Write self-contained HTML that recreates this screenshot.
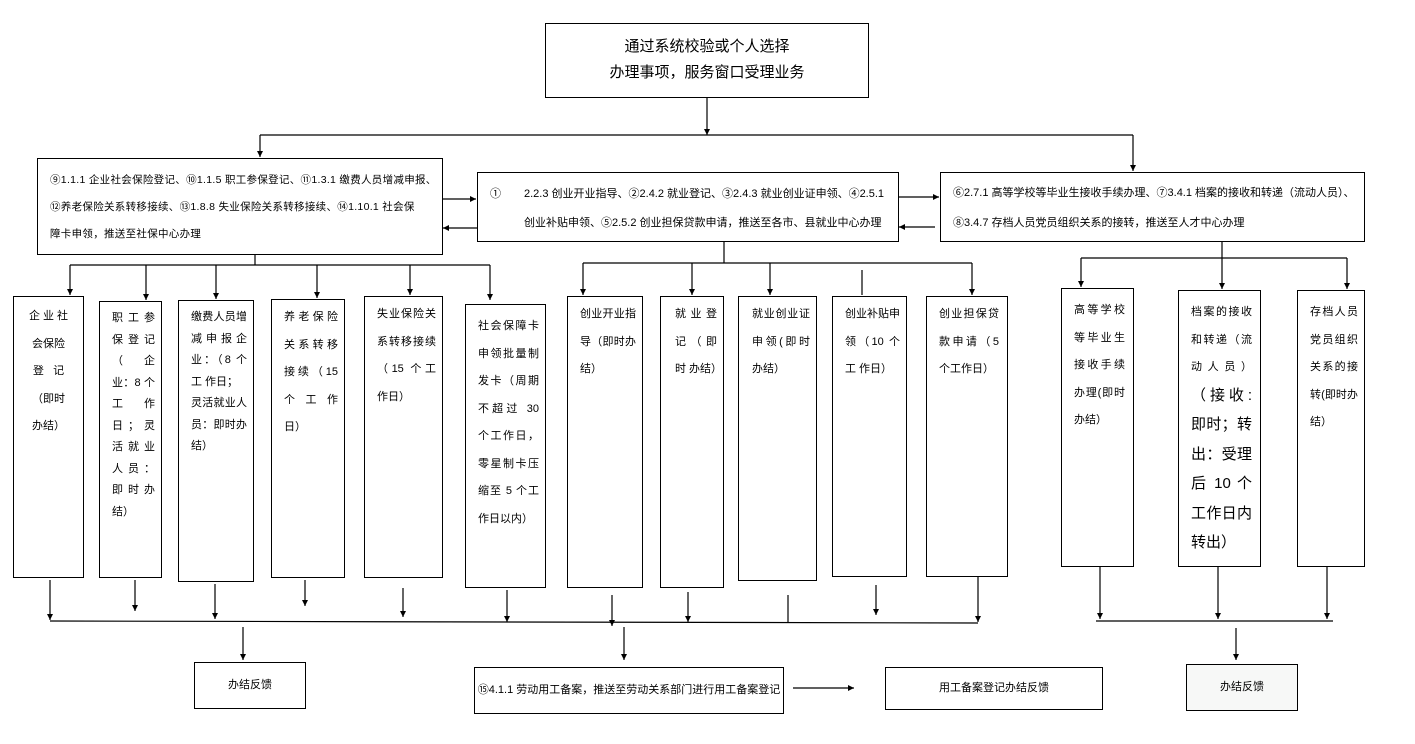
<!DOCTYPE html>
<html><head><meta charset="utf-8"><style>
body{margin:0;width:1415px;height:744px;background:#fff;position:relative;overflow:hidden;font-family:"Liberation Sans","Noto Sans CJK SC",sans-serif;color:#000}
.b{position:absolute;border:1.5px solid #000;box-sizing:border-box;background:#fff}
.t{font-size:10.5px;line-height:27px;white-space:nowrap}
.n{position:absolute;box-sizing:border-box;border:1.5px solid #000;background:#fff;font-size:11px;line-height:27.5px;padding:10px 8px 0 12px;text-align:justify;word-break:break-all}
svg{position:absolute;left:0;top:0}
</style></head><body>
<svg width="1415" height="744">
<defs><marker id="a" markerWidth="6" markerHeight="6" refX="5" refY="3" orient="auto"><path d="M0,0.5 L5,3 L0,5.5z" fill="#000"/></marker></defs>
<g stroke="#000" stroke-width="1.2" fill="none">
<line x1="707" y1="97" x2="707" y2="135" marker-end="url(#a)"/>
<line x1="260" y1="135" x2="1133" y2="135"/>
<line x1="260" y1="135" x2="260" y2="157" marker-end="url(#a)"/>
<line x1="1133" y1="135" x2="1133" y2="171" marker-end="url(#a)"/>
<line x1="442" y1="199" x2="476" y2="199" marker-end="url(#a)"/>
<line x1="477" y1="228" x2="443" y2="228" marker-end="url(#a)"/>
<line x1="898" y1="197" x2="939" y2="197" marker-end="url(#a)"/>
<line x1="935" y1="227" x2="899" y2="227" marker-end="url(#a)"/>
<line x1="255" y1="254" x2="255" y2="265"/>
<line x1="70" y1="265" x2="490" y2="265"/>
<line x1="70" y1="265" x2="70" y2="295" marker-end="url(#a)"/>
<line x1="146" y1="265" x2="146" y2="300" marker-end="url(#a)"/>
<line x1="216" y1="265" x2="216" y2="299" marker-end="url(#a)"/>
<line x1="317" y1="265" x2="317" y2="298" marker-end="url(#a)"/>
<line x1="410" y1="265" x2="410" y2="295" marker-end="url(#a)"/>
<line x1="490" y1="265" x2="490" y2="300" marker-end="url(#a)"/>
<line x1="724" y1="241" x2="724" y2="263"/>
<line x1="583" y1="263" x2="972" y2="263"/>
<line x1="583" y1="263" x2="583" y2="295" marker-end="url(#a)"/>
<line x1="692" y1="263" x2="692" y2="295" marker-end="url(#a)"/>
<line x1="770" y1="263" x2="770" y2="295" marker-end="url(#a)"/>
<line x1="862" y1="270" x2="862" y2="295"/>
<line x1="972" y1="263" x2="972" y2="295" marker-end="url(#a)"/>
<line x1="1222" y1="241" x2="1222" y2="289" marker-end="url(#a)"/>
<line x1="1081" y1="258" x2="1347" y2="258"/>
<line x1="1081" y1="258" x2="1081" y2="287" marker-end="url(#a)"/>
<line x1="1347" y1="258" x2="1347" y2="289" marker-end="url(#a)"/>
<line x1="50" y1="580" x2="50" y2="620" marker-end="url(#a)"/>
<line x1="135" y1="580" x2="135" y2="611" marker-end="url(#a)"/>
<line x1="215" y1="584" x2="215" y2="619" marker-end="url(#a)"/>
<line x1="305" y1="580" x2="305" y2="606" marker-end="url(#a)"/>
<line x1="403" y1="588" x2="403" y2="617" marker-end="url(#a)"/>
<line x1="507" y1="590" x2="507" y2="622" marker-end="url(#a)"/>
<line x1="612" y1="595" x2="612" y2="626" marker-end="url(#a)"/>
<line x1="688" y1="592" x2="688" y2="622" marker-end="url(#a)"/>
<line x1="788" y1="595" x2="788" y2="622"/>
<line x1="876" y1="585" x2="876" y2="615" marker-end="url(#a)"/>
<line x1="978" y1="568" x2="978" y2="622" marker-end="url(#a)"/>
<line x1="50" y1="621" x2="978" y2="623"/>
<line x1="243" y1="627" x2="243" y2="660" marker-end="url(#a)"/>
<line x1="624" y1="627" x2="624" y2="660" marker-end="url(#a)"/>
<line x1="1100" y1="566" x2="1100" y2="619" marker-end="url(#a)"/>
<line x1="1218" y1="566" x2="1218" y2="619" marker-end="url(#a)"/>
<line x1="1327" y1="566" x2="1327" y2="619" marker-end="url(#a)"/>
<line x1="1096" y1="621" x2="1333" y2="621"/>
<line x1="1236" y1="628" x2="1236" y2="660" marker-end="url(#a)"/>
<line x1="793" y1="688" x2="854" y2="688" marker-end="url(#a)"/>
</g></svg>

<div class="b" style="left:545px;top:23px;width:324px;height:75px;text-align:center;font-size:15px;line-height:26px;padding-top:10px">通过系统校验或个人选择<br>办理事项，服务窗口受理业务</div>

<div class="b t" style="left:37px;top:158px;width:406px;height:97px;padding:8px 0 0 12px;letter-spacing:0.3px">⑨1.1.1 企业社会保险登记、⑩1.1.5 职工参保登记、⑪1.3.1 缴费人员增减申报、<br>⑫养老保险关系转移接续、⑬1.8.8 失业保险关系转移接续、⑭1.10.1 社会保<br>障卡申领，推送至社保中心办理</div>

<div class="b" style="left:477px;top:172px;width:422px;height:70px;font-size:11px;line-height:29px;padding:7px 0 0 12px;white-space:nowrap"><span style="display:inline-block;width:34px">①</span>2.2.3 创业开业指导、②2.4.2 就业登记、③2.4.3 就业创业证申领、④2.5.1<br><span style="display:inline-block;width:34px"></span>创业补贴申领、⑤2.5.2 创业担保贷款申请，推送至各市、县就业中心办理</div>

<div class="b" style="left:940px;top:172px;width:425px;height:70px;font-size:11px;line-height:30px;padding:5px 0 0 12px;white-space:nowrap">⑥2.7.1 高等学校等毕业生接收手续办理、⑦3.4.1 档案的接收和转递（流动人员）、<br>⑧3.4.7 存档人员党员组织关系的接转，推送至人才中心办理</div>

<div class="n" style="left:13px;top:296px;width:71px;height:282px;text-align:center;padding:6px 8px 0 8px">企 业 社<br>会保险<br>登 &nbsp;&nbsp;记<br>（即时<br>办结）</div>
<div class="n" style="left:99px;top:301px;width:63px;height:277px;padding:6px 6px 0 12px;line-height:21.5px">职工参保登记（ 企业：8 个工作日；灵活就业人员：即时办结）</div>
<div class="n" style="left:178px;top:300px;width:76px;height:282px;padding:6px 6px 0 12px;line-height:21.5px">缴费人员增减申报企业：（8 个 工 作日；<br>灵活就业人员：即时办结）</div>
<div class="n" style="left:271px;top:299px;width:74px;height:279px;padding:4px 6px 0 12px">养老保险关系转移接续（15 个 工 作日）</div>
<div class="n" style="left:364px;top:296px;width:79px;height:282px;padding:4px 6px 0 12px">失业保险关系转移接续（15 个工作日）</div>
<div class="n" style="left:465px;top:304px;width:81px;height:284px;padding:8px 6px 0 12px">社会保障卡申领批量制发卡（周期不超过 30 个工作日，零星制卡压缩至 5 个工作日以内）</div>

<div class="n" style="left:567px;top:296px;width:76px;height:292px;padding:4px 6px 0 12px">创业开业指导（即时办结）</div>
<div class="n" style="left:660px;top:296px;width:64px;height:292px;padding:4px 6px 0 14px">就业登记（即时 办结）</div>
<div class="n" style="left:738px;top:296px;width:79px;height:285px;padding:4px 6px 0 13px">就业创业证申领(即时办结）</div>
<div class="n" style="left:832px;top:296px;width:75px;height:281px;padding:4px 6px 0 12px">创业补贴申领（10 个 工 作日）</div>
<div class="n" style="left:926px;top:296px;width:82px;height:281px;padding:4px 8px 0 12px">创业担保贷款申请（5 个工作日）</div>

<div class="n" style="left:1061px;top:288px;width:73px;height:279px;padding:8px 8px 0 12px">高等学校等毕业生接收手续办理(即时办结）</div>
<div class="n" style="left:1178px;top:290px;width:83px;height:277px;padding:8px 8px 0 12px">档案的接收和转递（流动人员）<span style="font-size:15px">（接收:即时；转出：受理后 10 个工作日内转出）</span></div>
<div class="n" style="left:1297px;top:290px;width:68px;height:277px;padding:8px 6px 0 12px">存档人员党员组织关系的接转(即时办结）</div>

<div class="b" style="left:194px;top:662px;width:112px;height:47px;font-size:11px;text-align:center;line-height:44px">办结反馈</div>
<div class="b" style="left:474px;top:667px;width:310px;height:47px;font-size:11px;text-align:center;line-height:44px">⑮4.1.1 劳动用工备案，推送至劳动关系部门进行用工备案登记</div>
<div class="b" style="left:885px;top:667px;width:218px;height:43px;font-size:11px;text-align:center;line-height:40px">用工备案登记办结反馈</div>
<div class="b" style="left:1186px;top:664px;width:112px;height:47px;font-size:11px;text-align:center;line-height:44px;background:#f7f8f7">办结反馈</div>
</body></html>
